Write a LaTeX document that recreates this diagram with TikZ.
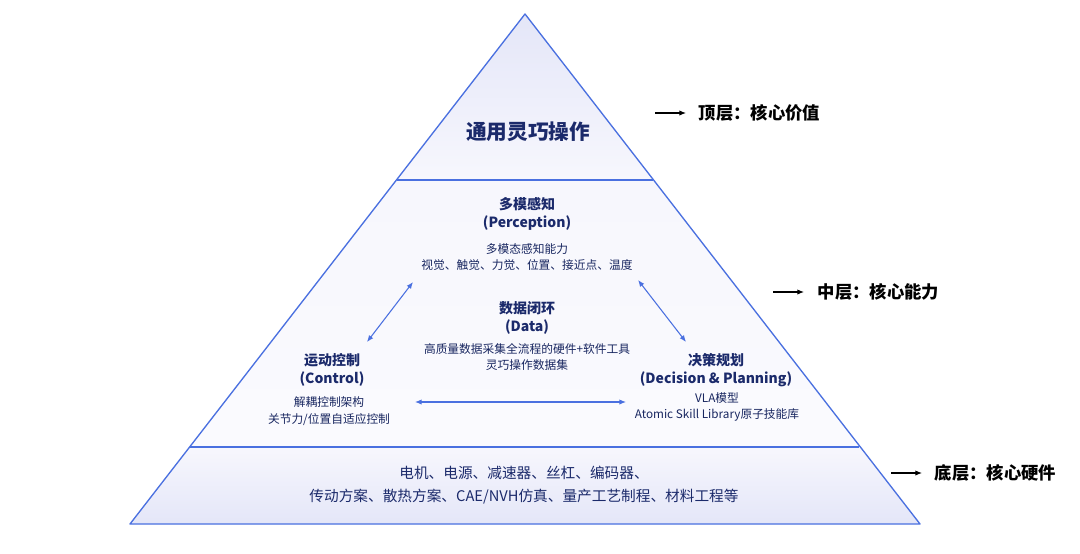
\documentclass[tikz,border=0pt]{standalone}
\usepackage{fontspec}
\setmainfont{Noto Sans CJK SC}
\usetikzlibrary{arrows.meta}
\definecolor{navy}{HTML}{1B2A6B}
\definecolor{edge}{HTML}{4A70E0}
\definecolor{fillA}{HTML}{E4E6F8}
\definecolor{fillB}{HTML}{F7F7FD}
\begin{document}
\begin{tikzpicture}[x=0.75pt,y=-0.75pt,
  title/.style={font=\fontsize{10.5}{13}\selectfont\bfseries,text=navy,align=center},
  small/.style={font=\fontsize{8.8}{12.5}\selectfont,text=navy!90!black,align=center},
  side/.style={font=\fontsize{13}{15}\selectfont\bfseries,text=black,anchor=west},
  link/.style={edge,line width=0.8pt,{Latex[length=5pt,width=4pt]}-{Latex[length=5pt,width=4pt]}},
  pointer/.style={black,line width=0.8pt,-{Latex[length=5pt,width=4pt]}}]
\useasboundingbox (0,0) rectangle (1080,553);
\fill[white] (0,0) rectangle (1080,553);
\shade[top color=fillA,bottom color=fillB] (525,14) -- (397,180) -- (653,180) -- cycle;
\shade[top color=fillB,bottom color=fillB!60!white] (397,180) -- (653,180) -- (859,447) -- (190,447) -- cycle;
\shade[top color=fillB,bottom color=fillA] (190,447) -- (859,447) -- (920,524) -- (130,524) -- cycle;
\draw[edge,line width=1pt,line join=round] (525,14) -- (920,524) -- (130,524) -- cycle;
\draw[edge,line width=1pt] (397,180) -- (653,180);
\draw[edge,line width=1pt] (190,447) -- (859,447);
\node[title,font=\fontsize{15.5}{17}\selectfont\bfseries] (top) at (528,132) {通用灵巧操作};
\node[title] (perc) at (527,214) {多模感知\\(Perception)};
\node[small] (percd) at (527,257) {多模态感知能力\\视觉、触觉、力觉、位置、接近点、温度};
\node[title] (data) at (527,318) {数据闭环\\(Data)};
\node[small] (datad) at (527,357) {高质量数据采集全流程的硬件+软件工具\\灵巧操作数据集};
\node[title] (ctrl) at (332,370) {运动控制\\(Control)};
\node[small] (ctrld) at (329,411) {解耦控制架构\\关节力/位置自适应控制};
\node[title] (dec) at (716,370) {决策规划\\(Decision \& Planning)};
\node[small] (decd) at (717,407) {VLA模型\\Atomic Skill Library原子技能库};
\node[font=\fontsize{11}{17}\selectfont,text=navy,align=center] (base) at (524,485) {电机、电源、减速器、丝杠、编码器、\\传动方案、散热方案、CAE/NVH仿真、量产工艺制程、材料工程等};
\coordinate (a1) at (413,282); \coordinate (a2) at (367,342);
\coordinate (b1) at (638,280); \coordinate (b2) at (686,342);
\coordinate (c1) at (415,402); \coordinate (c2) at (626,402);
\draw[link] (a1) -- (a2);
\draw[link] (b1) -- (b2);
\draw[link] (c1) -- (c2);
\coordinate (p1) at (655,113); \coordinate (q1) at (686,113);
\coordinate (p2) at (773,292); \coordinate (q2) at (804,292);
\coordinate (p3) at (891,473); \coordinate (q3) at (922,473);
\draw[pointer] (p1) -- (q1); \node[side] (l1) at (694,113) {顶层：核心价值};
\draw[pointer] (p2) -- (q2); \node[side] (l2) at (813,292) {中层：核心能力};
\draw[pointer] (p3) -- (q3); \node[side] (l3) at (930,473) {底层：核心硬件};
\end{tikzpicture}
\end{document}
